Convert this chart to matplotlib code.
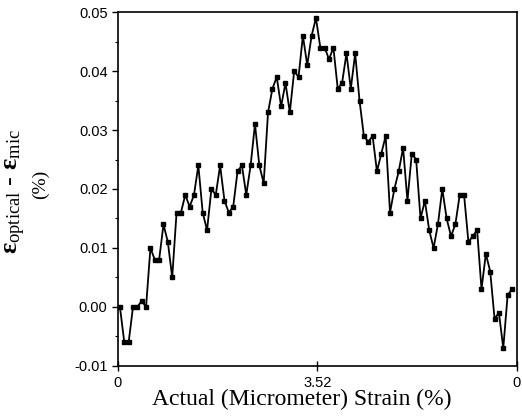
import numpy as np
import matplotlib
matplotlib.use("Agg")
import matplotlib.pyplot as plt
from matplotlib.ticker import MultipleLocator

# Loading (0 -> 3.52 %) then unloading (3.52 -> 0 %)
loading = [0.000, -0.006, -0.006, 0.000, 0.000, 0.001, 0.000, 0.010, 0.008, 0.008,
           0.014, 0.011, 0.005, 0.016, 0.016, 0.019, 0.017, 0.019, 0.024, 0.016,
           0.013, 0.020, 0.019, 0.024, 0.018, 0.016, 0.017, 0.023, 0.024, 0.019,
           0.024, 0.031, 0.024, 0.021, 0.033, 0.037, 0.039, 0.034, 0.038, 0.033,
           0.040, 0.039, 0.046, 0.041, 0.046, 0.049]
unloading = [0.044, 0.044, 0.042, 0.044, 0.037, 0.038, 0.043, 0.037, 0.043, 0.035,
             0.029, 0.028, 0.029, 0.023, 0.026, 0.029, 0.016, 0.020, 0.023, 0.027,
             0.018, 0.026, 0.025, 0.015, 0.018, 0.013, 0.010, 0.014, 0.020, 0.015,
             0.012, 0.014, 0.019, 0.019, 0.011, 0.012, 0.013, 0.003, 0.009, 0.006,
             -0.002, -0.001, -0.007, 0.002, 0.003]
xtick_labels = ["0", "3.52", "0"]
ytick_values = [-0.01, 0.00, 0.01, 0.02, 0.03, 0.04, 0.05]

values = loading + unloading
x = np.arange(len(values))

plt.rcParams['mathtext.fontset'] = 'custom'
plt.rcParams['mathtext.rm'] = 'Liberation Serif'
plt.rcParams['mathtext.it'] = 'Liberation Serif:italic'
plt.rcParams['mathtext.bf'] = 'Liberation Serif:bold'

fig = plt.figure(figsize=(5.22, 4.2), dpi=100)
ax = fig.add_axes([0.226, 0.129, 0.764, 0.842])

ax.plot(x, values, color='black', lw=1.3, marker='s', ms=2.2,
        mfc='black', mec='black')

step_left = -0.45
ax.set_xlim(step_left, len(values) + 0.1)
ax.set_ylim(-0.01, 0.05)
ax.set_xticks([step_left, 45.3, len(values) + 0.1])
ax.set_xticklabels(xtick_labels)
ax.set_yticks(ytick_values)
ax.set_yticklabels([f"{v:.2f}" for v in ytick_values])
ax.yaxis.set_minor_locator(MultipleLocator(0.005))

for lab in ax.get_xticklabels() + ax.get_yticklabels():
    lab.set_fontfamily('Liberation Sans')
    lab.set_fontsize(10.5)

ax.tick_params(axis='y', which='major', direction='out', length=4, width=1)
ax.tick_params(axis='y', which='minor', direction='out', length=2.5, width=0.8)
ax.tick_params(axis='x', which='major', direction='inout', length=7, width=1)
for s in ax.spines.values():
    s.set_linewidth(1.2)

ax.set_xlabel('Actual (Micrometer) Strain (%)', fontfamily='Liberation Serif',
              fontsize=17, labelpad=0)
ax.xaxis.set_label_coords(0.461, -0.065, transform=ax.transAxes)
ax.xaxis.label.set_va('top')

fig.text(0.030, 0.545,
         r'$\mathbf{\varepsilon}_{\mathrm{optical}}$ - $\mathbf{\varepsilon}_{\mathrm{mic}}$',
         rotation=90, ha='center', va='center', fontsize=19,
         fontfamily='Liberation Serif')
fig.text(0.078, 0.56, '(%)', rotation=90, ha='center', va='center',
         fontfamily='Liberation Serif', fontsize=14)

fig.savefig('out.png', dpi=100)
